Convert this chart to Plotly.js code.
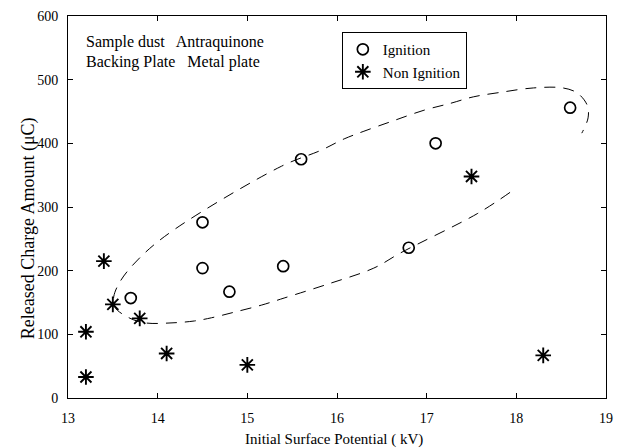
<!DOCTYPE html>
<html>
<head>
<meta charset="utf-8">
<script src="https://cdn.plot.ly/plotly-3.0.1.min.js"></script>
<style>html,body{margin:0;padding:0;background:#fff;}#chart{width:623px;height:448px;}</style>
</head>
<body>
<div id="chart"></div>
<script>
// Ignition points
const ignitionX = [13.7, 14.5, 14.5, 14.8, 15.4, 15.6, 16.8, 17.1, 18.6];
const ignitionY = [157, 276, 204, 167, 207, 375, 236, 400, 456];
// Non ignition points
const nonIgnitionX = [13.2, 13.2, 13.4, 13.5, 13.8, 14.1, 15.0, 17.5, 18.3];
const nonIgnitionY = [104, 33, 215, 147, 125, 70, 52, 348, 67];
// Dashed boundary curve (traced)
const boundX = [17.93, 17.57, 16.71, 16.41, 15.90, 15.41, 15.16, 14.86, 14.60, 14.41, 14.16, 13.86, 13.68, 13.52, 13.51, 13.59, 13.82, 14.19, 15.38, 15.82, 16.08, 16.30, 16.62, 16.97, 17.27, 17.52, 17.82, 18.19, 18.52, 18.68, 18.79, 18.80, 18.73];
const boundY = [323, 290, 228, 204, 179, 157, 146, 135, 126, 121, 118, 118, 126, 143, 159, 185, 223, 265, 364, 389, 407, 419, 435, 452, 463, 473, 480, 487, 487, 479, 460, 440, 416];
const xTicks = [13, 14, 15, 16, 17, 18, 19];
const yTicks = [0, 100, 200, 300, 400, 500, 600];
const xTitle = 'Initial Surface Potential ( kV)';
const yTitle = 'Released Charge Amount (μC)';

const fam = '"Liberation Serif", "DejaVu Serif", serif';
const tickFont = {family: fam, size: 14, color: '#000'};

const traces = [
  {x: boundX, y: boundY, mode: 'lines', line: {shape: 'spline', smoothing: 1, dash: '11px,8px', color: '#000', width: 1}, showlegend: false, hoverinfo: 'skip'},
  {x: ignitionX, y: ignitionY, mode: 'markers', name: 'Ignition', marker: {symbol: 'circle-open', size: 11, color: '#000', line: {width: 1.7, color: '#000'}}},
  {x: nonIgnitionX, y: nonIgnitionY, mode: 'markers', name: 'Non Ignition', marker: {symbol: 'asterisk-open', size: 13, color: '#000', line: {width: 1.9, color: '#000'}}}
];

const axisCommon = {showline: true, linecolor: '#000', linewidth: 1, mirror: 'ticks', ticks: 'inside', ticklen: 5, tickcolor: '#000', showgrid: false, zeroline: false, tickfont: tickFont};

const layout = {
  width: 623, height: 448,
  margin: {l: 68, r: 17, t: 16, b: 50},
  paper_bgcolor: '#fff', plot_bgcolor: '#fff',
  font: tickFont,
  xaxis: Object.assign({}, axisCommon, {range: [13, 19], tickvals: xTicks, ticktext: xTicks.map(String), ticklabelstandoff: 7}),
  yaxis: Object.assign({}, axisCommon, {range: [0, 600], tickvals: yTicks, ticktext: yTicks.map(String), ticklabelstandoff: 6}),
  legend: {x: 0.509, y: 0.958, xanchor: 'left', yanchor: 'top', bordercolor: '#000', borderwidth: 1, bgcolor: '#fff', font: {family: fam, size: 15, color: '#000'}, tracegroupgap: 0, itemwidth: 30},
  annotations: [
    {xref: 'paper', yref: 'paper', x: 0.03, y: 0.932, xanchor: 'left', yanchor: 'middle', showarrow: false, text: 'Sample dust   Antraquinone', font: {family: fam, size: 16, color: '#000'}},
    {xref: 'paper', yref: 'paper', x: 0.03, y: 0.880, xanchor: 'left', yanchor: 'middle', showarrow: false, text: 'Backing Plate   Metal plate', font: {family: fam, size: 16, color: '#000'}},
    {xref: 'paper', yref: 'paper', x: 0.494, y: -0.108, xanchor: 'center', yanchor: 'middle', showarrow: false, text: xTitle, font: {family: fam, size: 15, color: '#000'}},
    {xref: 'paper', yref: 'paper', x: -0.074, y: 0.445, xanchor: 'center', yanchor: 'middle', showarrow: false, textangle: -90, text: yTitle, font: {family: fam, size: 18, color: '#000'}}
  ]
};

Plotly.newPlot('chart', traces, layout, {displayModeBar: false, staticPlot: true});
</script>
</body>
</html>
